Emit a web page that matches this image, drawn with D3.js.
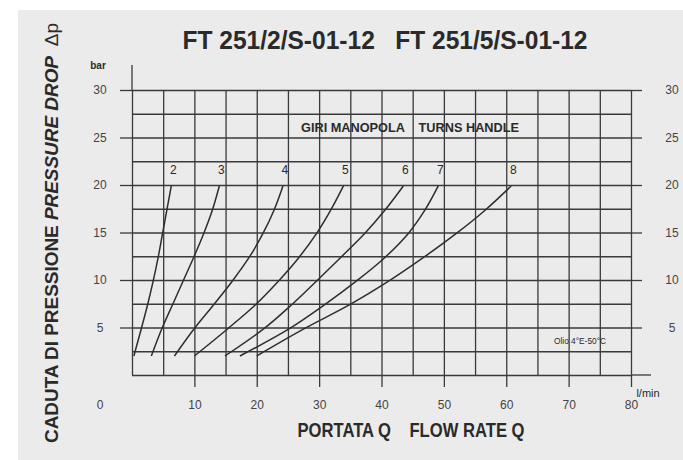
<!DOCTYPE html>
<html>
<head>
<meta charset="utf-8">
<script src="https://cdn.jsdelivr.net/npm/d3@7"></script>
<style>
  body { margin: 0; background: #fff; }
  #chart { width: 683px; height: 460px; }
  text { font-family: "Liberation Sans Narrow", "Liberation Sans", Arial, sans-serif; fill: #2a2a2a; white-space: pre; }
  .grid line, .ticks line { stroke: #3a3a3a; stroke-width: 1.3; }
  .grid path, .ticks path { display: none; }
  .ticks text { fill: #444; }
  .curve { fill: none; stroke: #2e2e2e; stroke-width: 1.5; }
</style>
</head>
<body>
<div id="chart"></div>
<script>
var width = 683, height = 460;

// flow rate ticks (l/min) and pressure ticks (bar)
var flowTicks = [10, 20, 30, 40, 50, 60, 70, 80];
var pressTicks = [5, 10, 15, 20, 25, 30];

// handle turns, one curve each: [flow l/min, pressure bar]
var turns = ["2", "3", "4", "5", "6", "7", "8"];
var turn2 = [[0.3, 2], [1.5, 4.9], [2.5, 7.4], [3.4, 9.9], [4.2, 12.4], [4.9, 14.9], [5.6, 17.4], [6.3, 19.9]];
var turn3 = [[3.1, 2], [4.8, 4.9], [6.5, 7.4], [8.2, 9.9], [9.9, 12.4], [11.5, 14.9], [12.9, 17.4], [14.0, 19.9]];
var turn4 = [[6.8, 2], [10.0, 4.9], [13.1, 7.4], [16.1, 9.9], [18.8, 12.4], [21.0, 14.9], [22.8, 17.4], [24.2, 19.9]];
var turn5 = [[10.0, 2], [15.4, 4.9], [19.8, 7.4], [23.5, 9.9], [26.8, 12.4], [29.6, 14.9], [31.9, 17.4], [33.9, 19.9]];
var turn6 = [[14.9, 2], [21.2, 4.9], [25.6, 7.4], [29.6, 9.9], [33.5, 12.4], [37.3, 14.9], [40.6, 17.4], [43.5, 19.9]];
var turn7 = [[17.3, 2], [25.3, 4.9], [30.9, 7.4], [36.0, 9.9], [40.6, 12.4], [44.3, 14.9], [47.0, 17.4], [49.1, 19.9]];
var turn8 = [[20.0, 2], [27.7, 4.9], [34.9, 7.4], [41.2, 9.9], [46.8, 12.4], [52.0, 14.9], [56.7, 17.4], [60.8, 19.9]];
var curves = [turn2, turn3, turn4, turn5, turn6, turn7, turn8];

var svg = d3.select("#chart")
            .append("svg")
            .attr("width", width)
            .attr("height", height);

// paper background
svg.append("rect").attr("width", width).attr("height", height).attr("fill", "#fff");
svg.append("rect")
   .attr("x", 18).attr("y", 10)
   .attr("width", width - 18).attr("height", height - 10)
   .attr("fill", "#ebebeb");

var x = d3.scaleLinear().domain([0, 80]).range([132, 631]);
var y = d3.scaleLinear().domain([0, 30]).range([375, 90]);

// grid every 5 l/min and 2.5 bar
svg.append("g")
   .attr("class", "grid")
   .attr("transform", "translate(0," + y(0) + ")")
   .call(d3.axisBottom(x).tickValues(d3.range(0, 81, 5)).tickSize(-(y(0) - y(30))).tickFormat(""));

svg.append("g")
   .attr("class", "grid")
   .attr("transform", "translate(" + x(0) + ",0)")
   .call(d3.axisLeft(y).tickValues(d3.range(0, 30.1, 2.5)).tickSize(-(x(80) - x(0))).tickFormat(""));

// axis line extensions
svg.append("line")
   .attr("x1", x(0)).attr("x2", x(0))
   .attr("y1", y(30)).attr("y2", y(30) - 25)
   .attr("stroke", "#3a3a3a").attr("stroke-width", 1.3);
svg.append("line")
   .attr("x1", x(80)).attr("x2", x(80) + 20)
   .attr("y1", y(0)).attr("y2", y(0))
   .attr("stroke", "#3a3a3a").attr("stroke-width", 1.3);

// left ticks
var left = svg.append("g")
   .attr("class", "ticks")
   .attr("transform", "translate(" + x(0) + ",0)")
   .call(d3.axisLeft(y).tickValues(pressTicks).tickSize(12).tickSizeOuter(0));
left.selectAll("text")
    .attr("x", -32).attr("text-anchor", "middle")
    .style("font-size", "12px").style("font-family", "'Liberation Sans Narrow', 'Liberation Sans', sans-serif");

// right ticks
var right = svg.append("g")
   .attr("class", "ticks")
   .attr("transform", "translate(" + x(80) + ",0)")
   .call(d3.axisRight(y).tickValues(pressTicks).tickSize(11).tickSizeOuter(0));
right.selectAll("text")
    .attr("x", 41).attr("text-anchor", "middle")
    .style("font-size", "12px").style("font-family", "'Liberation Sans Narrow', 'Liberation Sans', sans-serif");

// bottom ticks
var bottom = svg.append("g")
   .attr("class", "ticks")
   .attr("transform", "translate(0," + y(0) + ")")
   .call(d3.axisBottom(x).tickValues(flowTicks).tickSize(12).tickSizeOuter(0));
bottom.selectAll("text")
    .attr("y", 25)
    .style("font-size", "12px").style("font-family", "'Liberation Sans Narrow', 'Liberation Sans', sans-serif");

svg.append("text")
   .attr("x", 100).attr("y", 409)
   .attr("text-anchor", "middle")
   .style("font-size", "12px").style("fill", "#444")
   .text("0");

svg.append("text")
   .attr("x", 98).attr("y", 69)
   .attr("text-anchor", "middle")
   .style("font-size", "10px")
   .style("font-weight", "bold")
   .text("bar");

svg.append("text")
   .attr("x", 648).attr("y", 397)
   .attr("text-anchor", "middle")
   .style("font-size", "11px")
   .text("l/min");

// curves
var line = d3.line()
             .x(function(d) { return x(d[0]); })
             .y(function(d) { return y(d[1]); })
             .curve(d3.curveMonotoneY);

svg.selectAll(".curve")
   .data(curves)
   .enter()
   .append("path")
   .attr("class", "curve")
   .attr("d", line);

svg.selectAll(".turn")
   .data(curves)
   .enter()
   .append("text")
   .attr("class", "turn")
   .attr("x", function(d) { return x(d[d.length - 1][0]) + 2; })
   .attr("y", y(21.2))
   .attr("text-anchor", "middle")
   .style("font-size", "12px")
   .text(function(d, i) { return turns[i]; });

svg.append("text")
   .attr("x", 410).attr("y", 132)
   .attr("text-anchor", "middle")
   .attr("textLength", 218).attr("lengthAdjust", "spacingAndGlyphs")
   .style("font-size", "13px").style("font-weight", "bold")
   .text("GIRI MANOPOLA    TURNS HANDLE");

svg.append("text")
   .attr("x", 580).attr("y", 344)
   .attr("text-anchor", "middle")
   .attr("textLength", 52).attr("lengthAdjust", "spacingAndGlyphs")
   .style("font-size", "9px")
   .text("Olio 4°E-50°C");

// titles
svg.append("text")
   .attr("x", 385).attr("y", 49)
   .attr("text-anchor", "middle")
   .attr("textLength", 405).attr("lengthAdjust", "spacingAndGlyphs")
   .style("font-size", "25px").style("font-weight", "bold")
   .text("FT 251/2/S-01-12   FT 251/5/S-01-12");

svg.append("text")
   .attr("x", 411).attr("y", 437)
   .attr("text-anchor", "middle")
   .attr("textLength", 227).attr("lengthAdjust", "spacingAndGlyphs")
   .style("font-size", "20px").style("font-weight", "bold")
   .text("PORTATA Q    FLOW RATE Q");

var yTitle = svg.append("text")
   .attr("transform", "translate(58,443) rotate(-90)")
   .attr("textLength", 420).attr("lengthAdjust", "spacingAndGlyphs")
   .style("font-size", "19px").style("font-weight", "bold");
yTitle.append("tspan").text("CADUTA DI PRESSIONE ");
yTitle.append("tspan").style("font-style", "italic").text("PRESSURE DROP ");
yTitle.append("tspan").style("font-weight", "normal").text(" Δp");
</script>
</body>
</html>
